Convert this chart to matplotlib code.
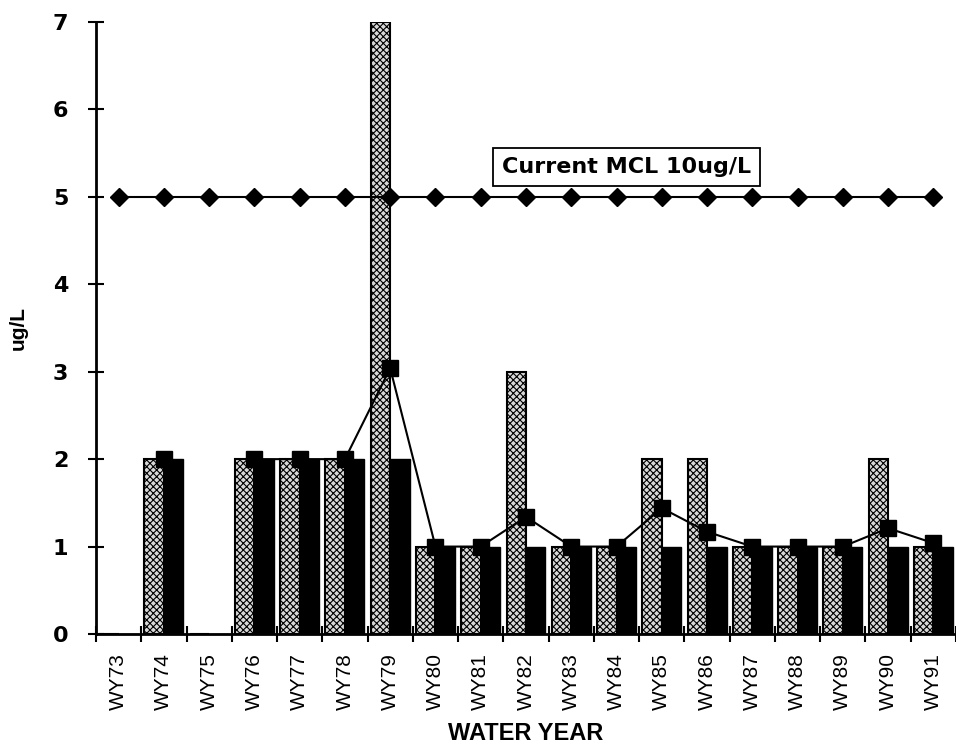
import matplotlib
matplotlib.use('Agg')
import matplotlib.pyplot as plt
import numpy as np

years = ['WY73', 'WY74', 'WY75', 'WY76', 'WY77', 'WY78', 'WY79', 'WY80', 'WY81', 'WY82',
         'WY83', 'WY84', 'WY85', 'WY86', 'WY87', 'WY88', 'WY89', 'WY90', 'WY91']
max_vals = [0, 2, 0, 2, 2, 2, 7, 1, 1, 3, 1, 1, 2, 2, 1, 1, 1, 2, 1]
min_vals = [0, 2, 0, 2, 2, 2, 2, 1, 1, 1, 1, 1, 1, 1, 1, 1, 1, 1, 1]
mean_vals = [np.nan, 2, np.nan, 2, 2, 2, 3.04, 1, 1, 1.34, 1, 1, 1.44, 1.17, 1, 1, 1, 1.21, 1.04]
mcl_vals = [5] * 19

plt.rcParams['hatch.linewidth'] = 0.8
fig = plt.figure(figsize=(9.56, 7.48), dpi=100)
ax = fig.add_axes([0.1004, 0.1524, 0.8996, 0.8182])

x = np.arange(len(years))
w = 0.43
ax.bar(x - w / 2, max_vals, width=w, facecolor='#d8d8d8', edgecolor='black',
       hatch='xxxxx', linewidth=1.5, zorder=2)
ax.bar(x + w / 2, min_vals, width=w, facecolor='black', edgecolor='black', zorder=2)
ax.plot(x, mean_vals, color='black', lw=1.5, marker='s', ms=12, zorder=4)
ax.plot(x, mcl_vals, color='black', lw=1.5, marker='D', ms=9, zorder=4)

ax.text(0.617, 0.763, 'Current MCL 10ug/L', transform=ax.transAxes, ha='center', va='center',
        fontsize=16, fontweight='bold', family=['DejaVu Sans'],
        bbox=dict(boxstyle='square,pad=0.4', facecolor='white', edgecolor='black', lw=1.3), zorder=5)

ax.set_xlim(-0.5, len(years) - 0.5)
ax.set_ylim(0, 7)
ax.set_yticks(range(8))
ax.set_yticklabels([str(i) for i in range(8)], fontsize=16, fontweight='bold',
                   family=['DejaVu Sans'])
ax.set_xticks(x)
ax.set_xticklabels(years, rotation=90, fontsize=15,
                   family=['Liberation Sans Narrow', 'Liberation Sans', 'DejaVu Sans'])
ax.set_xticks(np.arange(-0.5, len(years), 1), minor=True)
ax.tick_params(axis='x', which='major', length=0, pad=14)
ax.tick_params(axis='x', which='minor', direction='inout', length=12, width=1.5)
ax.tick_params(axis='y', direction='inout', length=12, width=1.5, pad=14)

for s in ['top', 'right']:
    ax.spines[s].set_visible(False)
for s in ['left', 'bottom']:
    ax.spines[s].set_linewidth(2)

ax.set_ylabel('ug/L', fontsize=15, fontweight='bold', labelpad=18,
              family=['Liberation Sans', 'DejaVu Sans'])
ax.set_xlabel('WATER YEAR', fontsize=17, fontweight='bold', labelpad=8,
              family=['Liberation Sans Narrow', 'Liberation Sans', 'DejaVu Sans'])

fig.savefig('out.png', dpi=100)
